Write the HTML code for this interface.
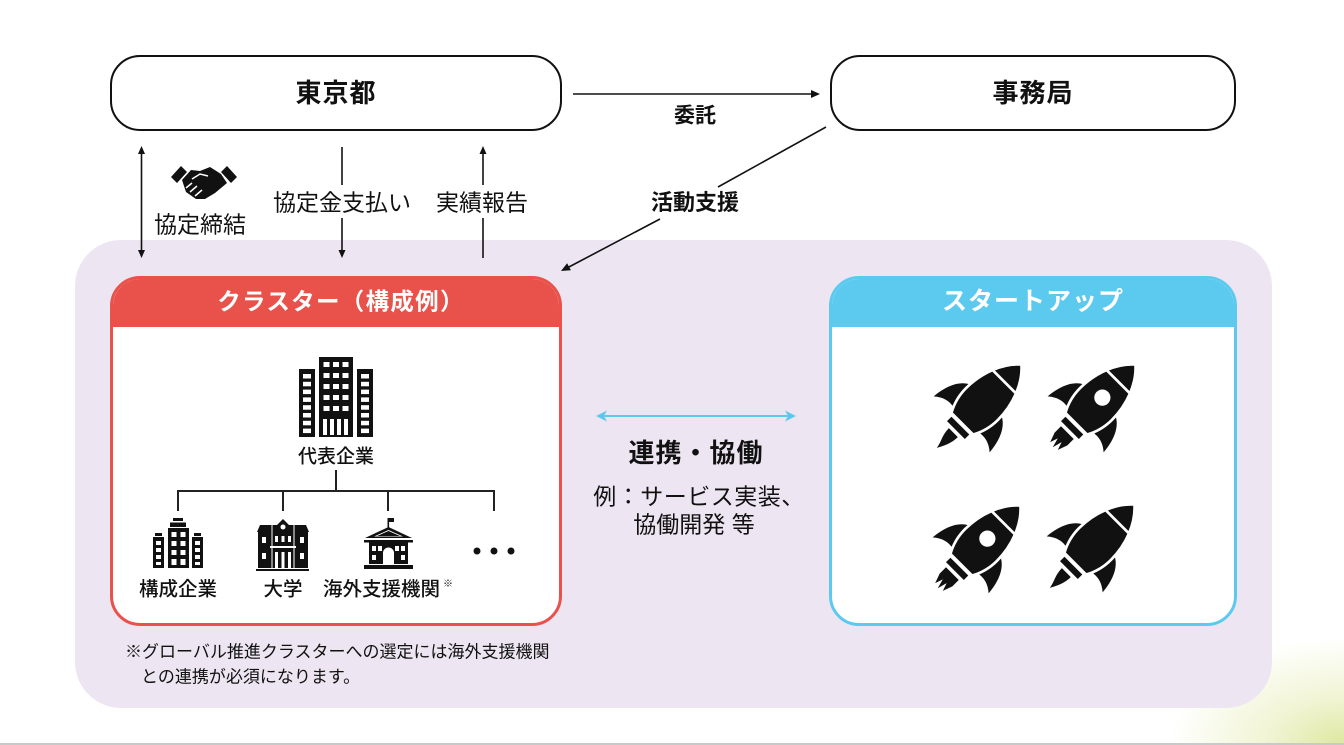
<!DOCTYPE html>
<html><head><meta charset="utf-8">
<style>
*{margin:0;padding:0;box-sizing:border-box}
html,body{width:1344px;height:745px;overflow:hidden;background:#fff}
body{position:relative;font-family:"Liberation Sans","Noto Sans CJK JP",sans-serif;color:#111}
.bg{position:absolute;left:0;top:0;width:1344px;height:745px;background:radial-gradient(ellipse 175px 108px at 1344px 745px, rgba(218,229,150,0.9) 0%, rgba(232,238,185,0.6) 45%, rgba(255,255,255,0) 100%)}
.bline{position:absolute;left:0;top:743px;width:1344px;height:2px;background:#c9c9c9}
.panel{position:absolute;left:75px;top:240px;width:1197px;height:468px;border-radius:46px;background:#ede6f2}
.rbox{position:absolute;border:2.5px solid #111;border-radius:30px;background:#fff}
.cbox{position:absolute;border-radius:30px;background:#fff;overflow:hidden}
.t{position:absolute;transform:translate(-50%,-50%);white-space:nowrap;line-height:1}
.l{position:absolute;transform:translate(0,-50%);white-space:nowrap;line-height:1}
.b{font-weight:700}
.m{font-weight:500}
svg{position:absolute;left:0;top:0}
</style></head>
<body>
<div class="bg"></div>
<div class="bline"></div>
<div class="panel"></div>

<div class="rbox" style="left:110px;top:55px;width:452px;height:76px"></div>
<div class="rbox" style="left:830px;top:55px;width:406px;height:76px"></div>

<div class="cbox" style="left:110px;top:276px;width:452px;height:350px;border:3px solid #e8524a">
  <div style="height:48px;background:#e8524a"></div>
</div>
<div class="cbox" style="left:829px;top:276px;width:408px;height:350px;border:3.5px solid #5ccaee">
  <div style="height:47.5px;background:#5ccaee"></div>
</div>

<svg width="1344" height="745" viewBox="0 0 1344 745">
  <defs>
    <g id="rbody">
      <path d="M-18,-8 C-32,-6 -42,8 -44,32 C-36,25 -28,23 -19,25 Z"/>
      <path d="M18,-8 C32,-6 42,8 44,32 C36,25 28,23 19,25 Z"/>
      <path d="M0,-62 C16,-48 25,-24 25,0 C25,12 22,22 17,31 L-17,31 C-22,22 -25,12 -25,0 C-25,-24 -16,-48 0,-62 Z" stroke="#fff" stroke-width="3"/>
      <line x1="-28" y1="-35" x2="28" y2="-35" stroke="#fff" stroke-width="3"/>
      <rect x="-14" y="34" width="28" height="7"/>
    </g>
    <g id="rA"><use href="#rbody"/><path d="M-7,45 L7,45 C7,55 3,62 -1,70 C-2,62 -7,56 -7,45 Z"/></g>
    <g id="rB"><use href="#rbody"/><circle cx="0" cy="-10" r="9" fill="#fff"/><path d="M-10,45 L10,45 L10,55 L6,66 L3,57 L0,68 L-3,57 L-6,66 L-10,55 Z"/></g>
  </defs>

  <!-- top connectors -->
  <g stroke="#111" stroke-width="1.6" fill="none">
    <line x1="573" y1="94" x2="812" y2="94"/>
    <line x1="826" y1="127" x2="718" y2="187"/>
    <line x1="660" y1="219" x2="567" y2="268"/>
    <line x1="141.5" y1="152" x2="141.5" y2="252"/>
    <line x1="342" y1="147" x2="342" y2="185"/>
    <line x1="342" y1="218" x2="342" y2="252"/>
    <line x1="483" y1="152" x2="483" y2="185"/>
    <line x1="483" y1="218" x2="483" y2="258"/>
  </g>
  <g fill="#111">
    <polygon points="820,94 811,90 811,98"/>
    <polygon points="561,271 570.9,270.3 567.1,263.3"/>
    <polygon points="141.5,146 138,154 145,154"/>
    <polygon points="141.5,258 138,250 145,250"/>
    <polygon points="342,258 338.5,250 345.5,250"/>
    <polygon points="483,146 479.5,154 486.5,154"/>
  </g>

  <!-- handshake -->
  <g fill="#111">
    <polygon points="171,177 181,166 187,172 177,183"/>
    <polygon points="237,177 227,166 221,172 231,183"/>
    <path d="M182,180 L191,170 L200,171 L210,167 L221,174 L227,183 L215,193 L205,199 L196,199 L186,192 Z"/>
  </g>
  <g stroke="#fff" stroke-width="1.5" fill="none">
    <path d="M192,179 L200,174 L208,176"/>
    <path d="M186,188 L192,183 M190,192 L197,186 M195,196 L202,190"/>
  </g>

  <!-- cyan arrow -->
  <line x1="603" y1="416" x2="789" y2="416" stroke="#5bc8ec" stroke-width="2"/>
  <polygon points="596,416 607,410.5 604,416 607,421.5" fill="#5bc8ec"/>
  <polygon points="796,416 785,410.5 788,416 785,421.5" fill="#5bc8ec"/>

  <!-- tree lines -->
  <g stroke="#222" stroke-width="2" fill="none">
    <line x1="336" y1="470" x2="336" y2="491"/>
    <line x1="177" y1="491" x2="495" y2="491"/>
    <line x1="178" y1="490" x2="178" y2="511"/>
    <line x1="283" y1="490" x2="283" y2="511"/>
    <line x1="388" y1="490" x2="388" y2="511"/>
    <line x1="494" y1="490" x2="494" y2="511"/>
  </g>

  <!-- main building -->
  <g fill="#111">
    <rect x="319" y="357" width="34" height="80"/>
    <rect x="299" y="369" width="16" height="68"/>
    <rect x="357" y="369" width="16" height="68"/>
  </g>
  <g fill="#fff">
    <rect x="323.5" y="362" width="6" height="5"/><rect x="333" y="362" width="6" height="5"/><rect x="342.5" y="362" width="6" height="5"/>
    <rect x="323.5" y="373" width="6" height="5"/><rect x="333" y="373" width="6" height="5"/><rect x="342.5" y="373" width="6" height="5"/>
    <rect x="323.5" y="384" width="6" height="5"/><rect x="333" y="384" width="6" height="5"/><rect x="342.5" y="384" width="6" height="5"/>
    <rect x="323.5" y="395" width="6" height="5"/><rect x="333" y="395" width="6" height="5"/><rect x="342.5" y="395" width="6" height="5"/>
    <rect x="323.5" y="406" width="6" height="5"/><rect x="333" y="406" width="6" height="5"/><rect x="342.5" y="406" width="6" height="5"/>
    <rect x="323" y="419" width="4" height="16"/><rect x="330" y="419" width="4" height="16"/><rect x="337" y="419" width="4" height="16"/><rect x="344" y="419" width="4" height="16"/>
    <rect x="303" y="374" width="8" height="4.5"/><rect x="303" y="381.8" width="8" height="4.5"/><rect x="303" y="389.6" width="8" height="4.5"/><rect x="303" y="397.4" width="8" height="4.5"/>
    <rect x="303" y="405.2" width="8" height="4.5"/><rect x="303" y="413" width="8" height="4.5"/><rect x="303" y="420.8" width="8" height="4.5"/><rect x="303" y="428.6" width="8" height="4.5"/>
    <rect x="361" y="374" width="8" height="4.5"/><rect x="361" y="381.8" width="8" height="4.5"/><rect x="361" y="389.6" width="8" height="4.5"/><rect x="361" y="397.4" width="8" height="4.5"/>
    <rect x="361" y="405.2" width="8" height="4.5"/><rect x="361" y="413" width="8" height="4.5"/><rect x="361" y="420.8" width="8" height="4.5"/><rect x="361" y="428.6" width="8" height="4.5"/>
  </g>

  <!-- 構成企業 icon -->
  <g fill="#111">
    <rect x="173" y="518" width="10" height="3"/>
    <rect x="170" y="522.5" width="16" height="4.5"/>
    <rect x="168" y="528" width="21" height="40"/>
    <rect x="155" y="533" width="7" height="3"/>
    <rect x="153" y="537" width="11" height="31"/>
    <rect x="194" y="533" width="7" height="3"/>
    <rect x="192" y="537" width="11" height="31"/>
  </g>
  <g fill="#fff">
    <rect x="171.5" y="532" width="5" height="5"/><rect x="180.5" y="532" width="5" height="5"/>
    <rect x="171.5" y="541" width="5" height="5"/><rect x="180.5" y="541" width="5" height="5"/>
    <rect x="171.5" y="550" width="5" height="5"/><rect x="180.5" y="550" width="5" height="5"/>
    <rect x="171.5" y="559" width="5" height="6"/><rect x="180.5" y="559" width="5" height="6"/>
    <rect x="156" y="541" width="5" height="4"/><rect x="156" y="548" width="5" height="4"/><rect x="156" y="555" width="5" height="4"/><rect x="156" y="562" width="5" height="3"/>
    <rect x="195" y="541" width="5" height="4"/><rect x="195" y="548" width="5" height="4"/><rect x="195" y="555" width="5" height="4"/><rect x="195" y="562" width="5" height="3"/>
  </g>

  <!-- 大学 icon -->
  <g fill="#111">
    <polygon points="257,532 260,525 306,525 309,532"/>
    <polygon points="270,532 283,519 296,532"/>
    <rect x="258" y="532" width="50" height="36"/>
    <rect x="256" y="569" width="53" height="2"/>
  </g>
  <g fill="#fff">
    <circle cx="283" cy="527" r="2.5"/>
    <line x1="272" y1="525" x2="272" y2="568" stroke="#fff" stroke-width="1"/>
    <line x1="294" y1="525" x2="294" y2="568" stroke="#fff" stroke-width="1"/>
    <rect x="262" y="537" width="4" height="6"/><rect x="300" y="537" width="4" height="6"/>
    <rect x="262" y="553" width="4" height="6"/><rect x="300" y="553" width="4" height="6"/>
    <rect x="275" y="536" width="3" height="6"/><rect x="281.5" y="536" width="3" height="6"/><rect x="288" y="536" width="3" height="6"/>
    <rect x="270" y="546" width="26" height="2"/>
    <rect x="275" y="552" width="3" height="16"/><rect x="281.5" y="552" width="3" height="16"/><rect x="288" y="552" width="3" height="16"/>
  </g>

  <!-- 海外支援機関 icon -->
  <g fill="#111">
    <rect x="387.5" y="518" width="1.6" height="10"/>
    <rect x="388" y="518" width="6" height="4"/>
    <polygon points="365,538 388.5,527 412,538"/>
    <rect x="364" y="540" width="49" height="2.5"/>
    <rect x="369" y="542" width="39" height="22"/>
    <rect x="364" y="565" width="49" height="4"/>
  </g>
  <g fill="#fff">
    <polygon points="374,536.5 388.5,530 403,536.5"/>
    <rect x="372" y="546" width="4" height="5"/><rect x="378" y="546" width="4" height="5"/>
    <rect x="395" y="546" width="4" height="5"/><rect x="401" y="546" width="4" height="5"/>
    <rect x="372" y="555" width="4" height="5"/><rect x="401" y="555" width="4" height="5"/>
    <path d="M383,564 L383,553 A5.5,5.5 0 0 1 394,553 L394,564 Z"/>
  </g>
  <polygon points="377,536 388.5,531 400,536" fill="#111"/>

  <!-- dots -->
  <g fill="#111">
    <circle cx="477" cy="551" r="3.5"/>
    <circle cx="494" cy="551" r="3.5"/>
    <circle cx="511" cy="551" r="3.5"/>
  </g>

  <!-- rockets -->
  <g fill="#111">
    <use href="#rA" transform="translate(982,404) rotate(45) scale(0.9)"/>
    <use href="#rB" transform="translate(1096,404) rotate(45) scale(0.9)"/>
    <use href="#rB" transform="translate(981,545) rotate(45) scale(0.9)"/>
    <use href="#rA" transform="translate(1095,544) rotate(45) scale(0.9)"/>
  </g>
</svg>

<!-- texts -->
<div class="t b" style="left:336px;top:93px;font-size:26px;letter-spacing:1px">東京都</div>
<div class="t b" style="left:1033px;top:93px;font-size:26px;letter-spacing:1px">事務局</div>
<div class="t b" style="left:695px;top:116px;font-size:21px">委託</div>
<div class="t b" style="left:695px;top:203px;font-size:22px">活動支援</div>
<div class="t" style="left:200px;top:225px;font-size:23px">協定締結</div>
<div class="t" style="left:342px;top:203px;font-size:23px">協定金支払い</div>
<div class="t" style="left:482px;top:203px;font-size:23px">実績報告</div>

<div class="t b" style="left:341px;top:302px;font-size:23.5px;letter-spacing:1.3px;color:#fff">クラスター（構成例）</div>
<div class="t b" style="left:1033px;top:302px;font-size:25px;letter-spacing:1px;color:#fff">スタートアップ</div>

<div class="t m" style="left:336px;top:457px;font-size:19px">代表企業</div>
<div class="t m" style="left:178px;top:590px;font-size:19.5px">構成企業</div>
<div class="t m" style="left:283px;top:590px;font-size:19.5px">大学</div>
<div class="l m" style="left:323px;top:590px;font-size:19.5px">海外支援機関</div>
<div class="l" style="left:443px;top:585px;font-size:10px">※</div>

<div class="t b" style="left:696px;top:453px;font-size:26px;letter-spacing:1px">連携・協働</div>
<div class="t" style="left:699px;top:497px;font-size:23px;letter-spacing:0.5px">例：サービス実装、</div>
<div class="t" style="left:694px;top:525px;font-size:23px">協働開発 等</div>

<div class="l" style="left:125px;top:652px;font-size:17px">※グローバル推進クラスターへの選定には海外支援機関</div>
<div class="l" style="left:141px;top:677px;font-size:17px">との連携が必須になります。</div>
</body></html>
